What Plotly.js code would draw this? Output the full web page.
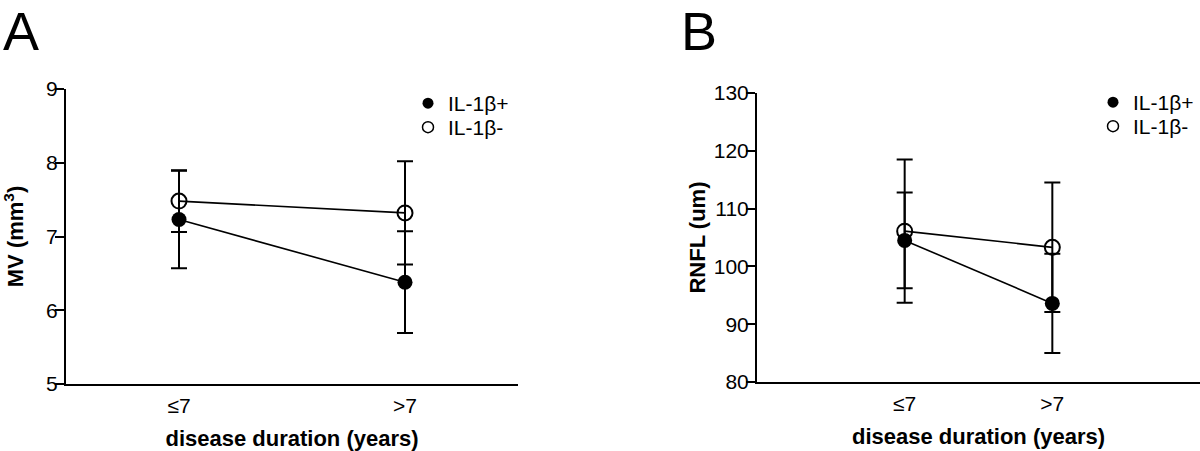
<!DOCTYPE html>
<html><head><meta charset="utf-8">
<script src="https://cdn.plot.ly/plotly-3.0.1.min.js"></script>
<style>html,body{margin:0;padding:0;background:#fff}</style>
</head><body>
<div id="chart" style="width:1200px;height:451px"></div>
<script>
// ---- data ----
const categories = ['≤7', '>7'];
const seriesNames = ['IL-1β+', 'IL-1β-'];
// Panel A: macular volume MV (mm3)
const mvPos = [7.23, 6.38];
const mvPosErr = [0.66, 0.69];
const mvNeg = [7.48, 7.32];
const mvNegErr = [0.42, 0.70];
// Panel B: RNFL (um)
const rnflPos = [104.5, 93.6];
const rnflPosErr = [8.3, 8.6];
const rnflNeg = [106.1, 103.3];
const rnflNegErr = [12.4, 11.2];
const yTicksA = [5, 6, 7, 8, 9];
const yTicksB = [80, 90, 100, 110, 120, 130];

const FONT = 'Liberation Sans, Arial, Helvetica, sans-serif';
const W = 1200, H = 451;
const px = v => v / W;
const py = v => 1 - v / H;

function series(x, y, err, filled, xa, ya) {
  return {
    type: 'scatter', mode: 'lines+markers', x: x, y: y,
    xaxis: xa, yaxis: ya, showlegend: false, hoverinfo: 'x+y',
    line: {color: '#000', width: 1.6},
    marker: filled
      ? {symbol: 'circle', size: 15, color: '#000'}
      : {symbol: 'circle-open', size: 15, color: '#000', line: {width: 2, color: '#000'}},
    error_y: {type: 'data', array: err, visible: true, color: '#000', thickness: 2, width: 8}
  };
}
function legendItem(name, filled, legend, xa, ya) {
  return {
    type: 'scatter', mode: 'markers', x: [null], y: [null], name: name,
    legend: legend, showlegend: true, xaxis: xa, yaxis: ya,
    marker: filled
      ? {symbol: 'circle', size: 11, color: '#000'}
      : {symbol: 'circle-open', size: 11, color: '#000', line: {width: 1.5, color: '#000'}}
  };
}

const data = [
  series(categories, mvNeg, mvNegErr, false, 'x', 'y'),
  series(categories, mvPos, mvPosErr, true, 'x', 'y'),
  series(categories, rnflNeg, rnflNegErr, false, 'x2', 'y2'),
  series(categories, rnflPos, rnflPosErr, true, 'x2', 'y2'),
  legendItem(seriesNames[0], true, 'legend', 'x', 'y'),
  legendItem(seriesNames[1], false, 'legend2', 'x', 'y'),
  legendItem(seriesNames[0], true, 'legend3', 'x2', 'y2'),
  legendItem(seriesNames[1], false, 'legend4', 'x2', 'y2')
];

const xCommon = {
  type: 'category', showline: true, linewidth: 2, linecolor: '#000',
  ticks: '', showgrid: false, zeroline: false, fixedrange: true,
  tickfont: {family: FONT, size: 21, color: '#000'}, ticklabelstandoff: 2
};
const yCommon = {
  showline: true, linewidth: 2, linecolor: '#000', ticks: 'outside', ticklen: 9,
  tickwidth: 2, tickcolor: '#000', showgrid: false, zeroline: false, fixedrange: true,
  tickfont: {family: FONT, size: 21, color: '#000'}, ticklabelstandoff: -7
};
const titleFont = {family: FONT, size: 22, color: '#000', weight: 'bold'};
const legendCommon = {
  font: {family: FONT, size: 21, color: '#000'}, bgcolor: 'rgba(0,0,0,0)',
  borderwidth: 0, xanchor: 'left', yanchor: 'top', itemwidth: 30
};

const layout = {
  width: W, height: H, margin: {l: 0, r: 0, t: 0, b: 0},
  paper_bgcolor: '#fff', plot_bgcolor: '#fff',
  font: {family: FONT, color: '#000'},
  xaxis: Object.assign({}, xCommon, {domain: [px(66), px(518)], range: [-0.5, 1.5], anchor: 'y',
    title: {text: 'disease duration (years)', font: titleFont, standoff: 14}}),
  yaxis: Object.assign({}, yCommon, {domain: [1 - 384 / H, 1 - 89 / H], range: [5, 9], tickvals: yTicksA, anchor: 'x',
    title: {text: 'MV (mm<sup>3</sup>)', font: titleFont, standoff: 16}}),
  xaxis2: Object.assign({}, xCommon, {domain: [px(757), 1], range: [-1, 2], anchor: 'y2',
    title: {text: 'disease duration (years)', font: titleFont, standoff: 14}}),
  yaxis2: Object.assign({}, yCommon, {domain: [1 - 382 / H, 1 - 93 / H], range: [80, 130], tickvals: yTicksB, anchor: 'x2',
    title: {text: 'RNFL (um)', font: titleFont, standoff: 2}}),
  legend: Object.assign({}, legendCommon, {x: px(408), y: py(83)}),
  legend2: Object.assign({}, legendCommon, {x: px(408), y: py(107)}),
  legend3: Object.assign({}, legendCommon, {x: px(1093), y: py(82)}),
  legend4: Object.assign({}, legendCommon, {x: px(1093), y: py(106)}),
  annotations: [
    {text: 'A', xref: 'paper', yref: 'paper', x: px(2), y: 1, xanchor: 'left', yanchor: 'top', borderpad: 0,
     showarrow: false, font: {family: FONT, size: 54, color: '#000'}},
    {text: 'B', xref: 'paper', yref: 'paper', x: px(680), y: 1, xanchor: 'left', yanchor: 'top', borderpad: 0,
     showarrow: false, font: {family: FONT, size: 54, color: '#000'}}
  ],
  showlegend: true
};

Plotly.newPlot('chart', data, layout, {displayModeBar: false, staticPlot: true});
</script>
</body></html>
